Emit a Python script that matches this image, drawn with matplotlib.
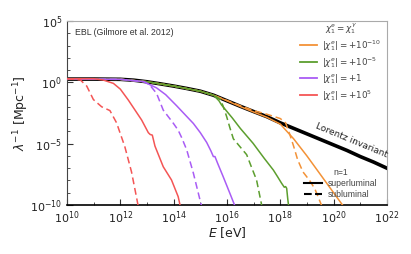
import numpy as np
import matplotlib
matplotlib.use("Agg")
import matplotlib.pyplot as plt
from matplotlib.lines import Line2D
from matplotlib.ticker import LogLocator, NullFormatter

plt.rcParams['mathtext.fontset'] = 'dejavusans'

# ---- data: log10(E/eV) and log10(lambda^-1 / Mpc^-1) ----
li_logE = [10, 11, 12, 12.5, 13, 13.5, 14, 14.5, 15, 15.5, 16, 16.5, 17, 17.5,
           18, 18.5, 19, 19.5, 20, 20.5, 21, 21.5, 22]
li_logL = [0.27, 0.27, 0.25, 0.18, 0.05, -0.12, -0.3, -0.5, -0.72, -1.05, -1.5,
           -1.95, -2.38, -2.8, -3.3, -3.75, -4.2, -4.65, -5.1, -5.55, -6.05, -6.5, -7.0]

# orange |chi| = 1e-10
or_sup_logE = [10, 12, 13, 14, 15, 15.5, 16, 16.5, 17, 17.5, 18.0, 18.5, 19.0, 19.5, 20.0, 20.4]
or_sup_logL = [0.27, 0.25, 0.05, -0.3, -0.72, -1.05, -1.5, -1.97, -2.42, -2.85, -3.4, -4.6,
               -6.0, -7.5, -9.0, -10.2]
or_sub_logE = [10, 12, 13, 14, 15, 15.5, 16, 16.5, 17.0, 17.5, 18.0, 18.2, 18.35, 18.5,
               18.65, 18.85, 19.1, 19.3, 19.58]
or_sub_logL = [0.27, 0.25, 0.05, -0.3, -0.72, -1.05, -1.48, -1.9, -2.3, -2.6, -2.95, -3.3,
               -4.2, -5.2, -6.3, -7.3, -8.0, -8.7, -10.2]

# green |chi| = 1e-5
gr_sup_logE = [10, 12, 13, 14, 15, 15.5, 15.7, 15.8, 16.2, 16.5, 16.98, 17.4, 17.74, 17.9,
               18.05, 18.15, 18.2, 18.24, 18.28, 18.32]
gr_sup_logL = [0.27, 0.25, 0.05, -0.3, -0.72, -1.05, -1.5, -1.85, -2.9, -3.75, -4.97, -6.2,
               -7.15, -7.7, -8.23, -8.55, -8.5, -8.64, -9.5, -10.2]
gr_sub_logE = [10, 12, 13, 14, 15, 15.5, 15.74, 15.85, 15.99, 16.11, 16.24, 16.49, 16.74,
               16.9, 17.11, 17.32]
gr_sub_logL = [0.27, 0.25, 0.05, -0.3, -0.72, -1.05, -1.35, -1.9, -2.8, -3.7, -4.6, -5.25,
               -5.9, -6.8, -7.96, -10.2]

# purple |chi| = 1
pu_sup_logE = [10, 12, 12.86, 13.36, 13.7, 14.11, 14.5, 14.74, 15.0, 15.24, 15.4, 15.49,
               15.55, 15.65, 15.86, 16.11, 16.32]
pu_sup_logL = [0.27, 0.25, 0.07, -0.45, -1.0, -1.9, -2.8, -3.35, -4.1, -4.9, -5.6, -6.05,
               -6.05, -6.6, -7.7, -9.05, -10.2]
pu_sub_logE = [10, 12, 12.9, 13.1, 13.36, 13.61, 13.99, 14.17, 14.3, 14.49, 14.74, 14.99, 15.06]
pu_sub_logL = [0.27, 0.25, 0.05, -0.2, -0.9, -2.26, -3.34, -3.9, -4.5, -5.5, -7.4, -9.6, -10.2]

# red |chi| = 1e5
re_sup_logE = [10, 11, 11.36, 11.74, 12.0, 12.3, 12.8, 13.05, 13.12, 13.2, 13.3, 13.61,
               13.92, 14.17, 14.26]
re_sup_logL = [0.3, 0.3, 0.19, -0.08, -0.55, -1.44, -3.07, -4.1, -4.25, -4.3, -5.2, -6.88,
               -7.96, -9.32, -10.2]
re_sub_logE = [10, 10.5, 10.74, 10.99, 11.3, 11.61, 11.86, 12.17, 12.42, 12.61, 12.68]
re_sub_logL = [0.3, 0.2, -0.3, -1.4, -1.99, -2.3, -3.3, -5.25, -7.3, -9.4, -10.2]

legend_labels = [r'$|\chi_1^e| = +10^{-10}$', r'$|\chi_1^e| = +10^{-5}$',
                 r'$|\chi_1^e| = +1$', r'$|\chi_1^e| = +10^{5}$']
colors = ['#f39237', '#5c9e2e', '#a95cf5', '#f45555']

series = [
    (or_sup_logE, or_sup_logL, or_sub_logE, or_sub_logL),
    (gr_sup_logE, gr_sup_logL, gr_sub_logE, gr_sub_logL),
    (pu_sup_logE, pu_sup_logL, pu_sub_logE, pu_sub_logL),
    (re_sup_logE, re_sup_logL, re_sub_logE, re_sub_logL),
]

fig = plt.figure(figsize=(4.11, 2.54), dpi=100)
ax = fig.add_axes([0.163, 0.193, 0.7784, 0.724])

p = lambda a: 10.0 ** np.asarray(a)
ax.plot(p(li_logE), p(li_logL), color='black', lw=2.6, zorder=2)
handles = []
for (se, sl, de, dl), c, lab in zip(series, colors, legend_labels):
    ax.plot(p(se), p(sl), color=c, lw=1.1, zorder=3)
    ax.plot(p(de), p(dl), color=c, lw=1.1, ls=(0, (4.5, 2.5)), zorder=3)
    handles.append(Line2D([], [], color=c, lw=1.3, label=lab))

ax.set_xscale('log')
ax.set_yscale('log')
ax.set_xlim(1e10, 1e22)
ax.set_ylim(1e-10, 1e5)

ax.xaxis.set_major_locator(LogLocator(base=100.0, numticks=20))
ax.xaxis.set_minor_locator(LogLocator(base=10.0, numticks=30))
ax.xaxis.set_minor_formatter(NullFormatter())
ax.yaxis.set_major_locator(LogLocator(base=1e5, numticks=10))
ax.yaxis.set_minor_locator(LogLocator(base=10.0, numticks=30))
ax.yaxis.set_minor_formatter(NullFormatter())
ax.tick_params(which='both', direction='in', top=False, right=False, labelsize=8,
               colors='#333333', labelcolor='#222222')
ax.tick_params(which='major', length=4, width=0.8)
ax.tick_params(which='minor', length=2.5, width=0.6)
ax.tick_params(axis='x', which='major', pad=3)

for s in ['top', 'right']:
    ax.spines[s].set_color('#aaaaaa')
    ax.spines[s].set_linewidth(0.8)
ax.spines['left'].set_color('#444444')
ax.spines['bottom'].set_color('black')
ax.spines['bottom'].set_linewidth(1.2)

ax.set_xlabel(r'$E$ [eV]', fontsize=9, color='#222222', labelpad=-0.5)
ax.set_ylabel(r'$\lambda^{-1}$ [Mpc$^{-1}$]', fontsize=9, color='#222222', labelpad=-1.0)

ax.text(0.025, 0.965, 'EBL (Gilmore et al. 2012)', transform=ax.transAxes,
        fontsize=6.3, family='Liberation Sans', color='#333333', va='top', ha='left')
ax.text(10**20.67, 10**-4.75, 'Lorentz invariant', fontsize=6.5, color='#222222',
        rotation=-22.5, ha='center', va='center', rotation_mode='anchor')

leg1 = ax.legend(handles=handles, title=r'$\chi_1^e = \chi_1^\gamma$', loc='upper right',
                 frameon=False, fontsize=6.3, title_fontsize=6.3,
                 bbox_to_anchor=(1.0, 1.03), handlelength=2.0, labelspacing=0.25,
                 borderaxespad=0.2, handletextpad=0.6)
for t in leg1.get_texts():
    t.set_color('#444444')
leg1.get_title().set_color('#444444')
ax.add_artist(leg1)

h2 = [Line2D([], [], color='black', lw=1.5, label='superluminal'),
      Line2D([], [], color='black', lw=1.5, ls='--', label='subluminal')]
leg2 = ax.legend(handles=h2, title='n=1', loc='lower right', frameon=False,
                 prop={'family': 'Liberation Sans', 'size': 6.2}, title_fontsize=6.2,
                 bbox_to_anchor=(0.98, 0.012), borderaxespad=0,
                 handlelength=2.0, labelspacing=0.25, handletextpad=0.7)
for t in leg2.get_texts():
    t.set_color('#444444')
leg2.get_title().set_color('#444444')
leg2.get_title().set_family('Liberation Sans')

fig.savefig('out.png', dpi=100)
